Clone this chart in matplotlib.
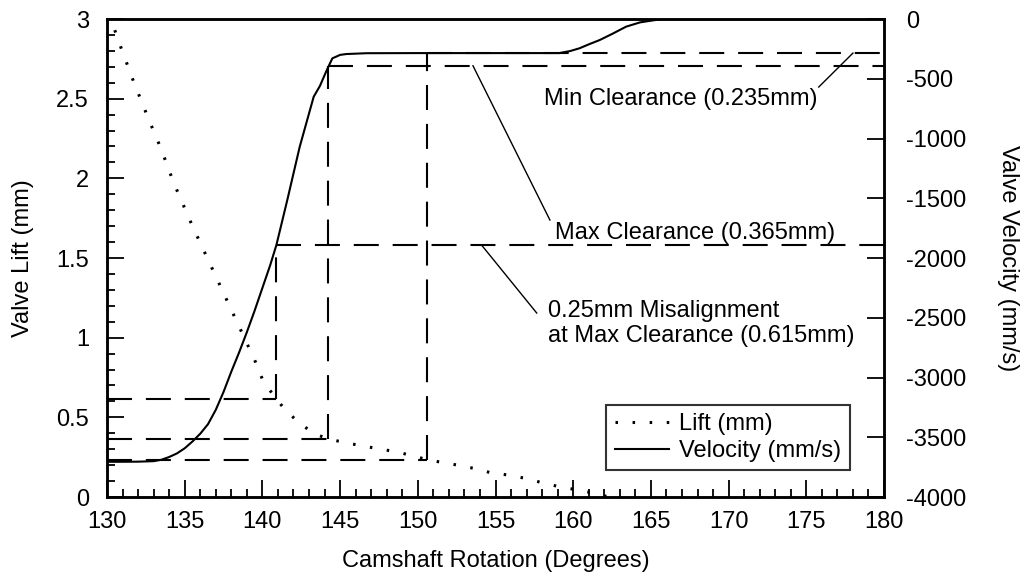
import matplotlib
matplotlib.use('Agg')
import matplotlib.pyplot as plt
from matplotlib.ticker import MultipleLocator

plt.rcParams['font.family'] = ['Liberation Sans', 'DejaVu Sans']
plt.rcParams['axes.unicode_minus'] = False
plt.rcParams['lines.scale_dashes'] = False

# valve lift (dotted), left axis
lift_deg = [130.5, 130.9, 131.7, 132.6, 133.5, 134.3, 135.5, 136.5, 137.5, 138.5,
            139.5, 140.06, 140.9, 141.5, 142.4, 143.3, 144.2, 145.5, 146.7, 147.9,
            149.0, 150.6, 151.3, 152.4, 153.6, 154.6, 155.8, 157.0, 158.1, 159.1,
            160.3, 161.4, 162.3]
lift_mm = [2.93, 2.82, 2.61, 2.39, 2.18, 1.97, 1.70, 1.49, 1.28, 1.07,
           0.86, 0.725, 0.615, 0.543, 0.463, 0.40, 0.365, 0.338, 0.316, 0.296,
           0.275, 0.235, 0.222, 0.203, 0.18, 0.155, 0.138, 0.116, 0.087, 0.065,
           0.044, 0.023, 0.0]

# valve velocity (solid), right axis
vel_deg = [130, 131, 132, 133.0, 133.5, 134.0, 134.5, 135.0, 135.5, 136.0,
           136.5, 137.0, 137.5, 138.0, 138.5, 139.0, 139.5, 140.0, 140.5, 140.9,
           141.6, 142.4, 143.3, 143.7, 144.1, 144.5, 145.0, 145.4, 146.7, 150,
           155, 159.1, 159.8, 160.4, 161.0, 161.7, 162.5, 163.4, 164.3, 165.2,
           165.8, 170, 175, 180]
vel_mms = [-3705, -3705, -3704, -3700, -3688, -3665, -3635, -3592, -3535, -3470,
           -3390, -3270, -3120, -2950, -2790, -2620, -2440, -2250, -2060, -1891,
           -1515, -1069, -650, -560, -440, -329, -300, -293, -286, -285,
           -285, -285, -268, -245, -212, -176, -125, -64, -28, -10,
           0, 0, 0, 0]

# clearance read-off lines
clear_mm = [0.615, 0.365, 0.235]
clear_deg = [140.9, 144.2, 150.6]
clear_vel = [-1891, -391, -285]

lift_lim = (0, 3)
vel_lim = (-4000, 0)


def vel_to_lift(v):
    return lift_lim[0] + (v - vel_lim[0]) / (vel_lim[1] - vel_lim[0]) * (lift_lim[1] - lift_lim[0])


fs = 17
fig = plt.figure(figsize=(10.32, 5.82), dpi=100)
ax = fig.add_axes([0.1037, 0.146, 0.7529, 0.8213])
ax2 = ax.twinx()

l_lift, = ax.plot(lift_deg, lift_mm, color='black', lw=2.2,
                  linestyle=(0, (1.8, 10.5)), label='Lift (mm)')
l_vel, = ax2.plot(vel_deg, vel_mms, color='black', lw=1.5, label='Velocity (mm/s)')

dash = (0, (18, 10))
for c, d, v in zip(clear_mm, clear_deg, clear_vel):
    ax.plot([130, d], [c, c], color='black', lw=1.5, linestyle=dash)
    ax.plot([d, d], [c, vel_to_lift(v)], color='black', lw=1.5, linestyle=dash)
    ax2.plot([d, 180], [v, v], color='black', lw=1.5, linestyle=dash)

ax.set_xlim(130, 180)
ax.set_ylim(*lift_lim)
ax2.set_ylim(*vel_lim)

ax.xaxis.set_major_locator(MultipleLocator(5))
ax.xaxis.set_minor_locator(MultipleLocator(1))
ax.yaxis.set_minor_locator(MultipleLocator(0.1))
ax.set_yticks([0, 0.5, 1, 1.5, 2, 2.5, 3])
ax.set_yticklabels(['0', '0.5', '1', '1.5', '2', '2.5', '3'])
ax2.yaxis.set_major_locator(MultipleLocator(500))

ax.tick_params(which='both', direction='in', top=False, right=False, width=1.3,
               labelsize=fs, color='black')
ax.tick_params(which='major', length=12.5)
ax.tick_params(which='minor', length=6)
ax.tick_params(axis='y', pad=13)
ax.tick_params(axis='x', pad=10)
ax2.tick_params(which='both', direction='in', width=1.3, length=12.5, labelsize=fs, pad=16)

for a in (ax, ax2):
    for s in a.spines.values():
        s.set_linewidth(1.8)

ax.set_xlabel('Camshaft Rotation (Degrees)', fontsize=fs, labelpad=12)
ax.set_ylabel('Valve Lift (mm)', fontsize=fs, labelpad=16)
ax2.set_ylabel('Valve Velocity (mm/s)', fontsize=fs, rotation=270, va='bottom', labelpad=22)

# annotations
ax2.plot([178.0, 175.8], [clear_vel[2], -569], color='black', lw=1)
ax2.text(175.75, -669, 'Min Clearance (0.235mm)', fontsize=fs, ha='right', va='center')

ax2.plot([153.55, 158.5], [clear_vel[1], -1682], color='black', lw=1)
ax2.text(158.8, -1791, 'Max Clearance (0.365mm)', fontsize=fs, ha='left', va='center')

ax.plot([154.1, 157.65], [vel_to_lift(clear_vel[0]), 1.155], color='black', lw=1)
ax.text(158.4, 1.088, '0.25mm Misalignment\nat Max Clearance (0.615mm)', fontsize=fs,
        ha='left', va='center', linespacing=1.2)

leg = ax2.legend([l_lift, l_vel], ['Lift (mm)', 'Velocity (mm/s)'], loc='lower right',
                 bbox_to_anchor=(0.956, 0.056), fontsize=fs, frameon=True, fancybox=False,
                 edgecolor='black', handlelength=2.3, handletextpad=0.45,
                 labelspacing=0.2, borderpad=0.35, borderaxespad=0)
leg.get_frame().set_linewidth(1.5)

fig.savefig('out.png', dpi=100)
